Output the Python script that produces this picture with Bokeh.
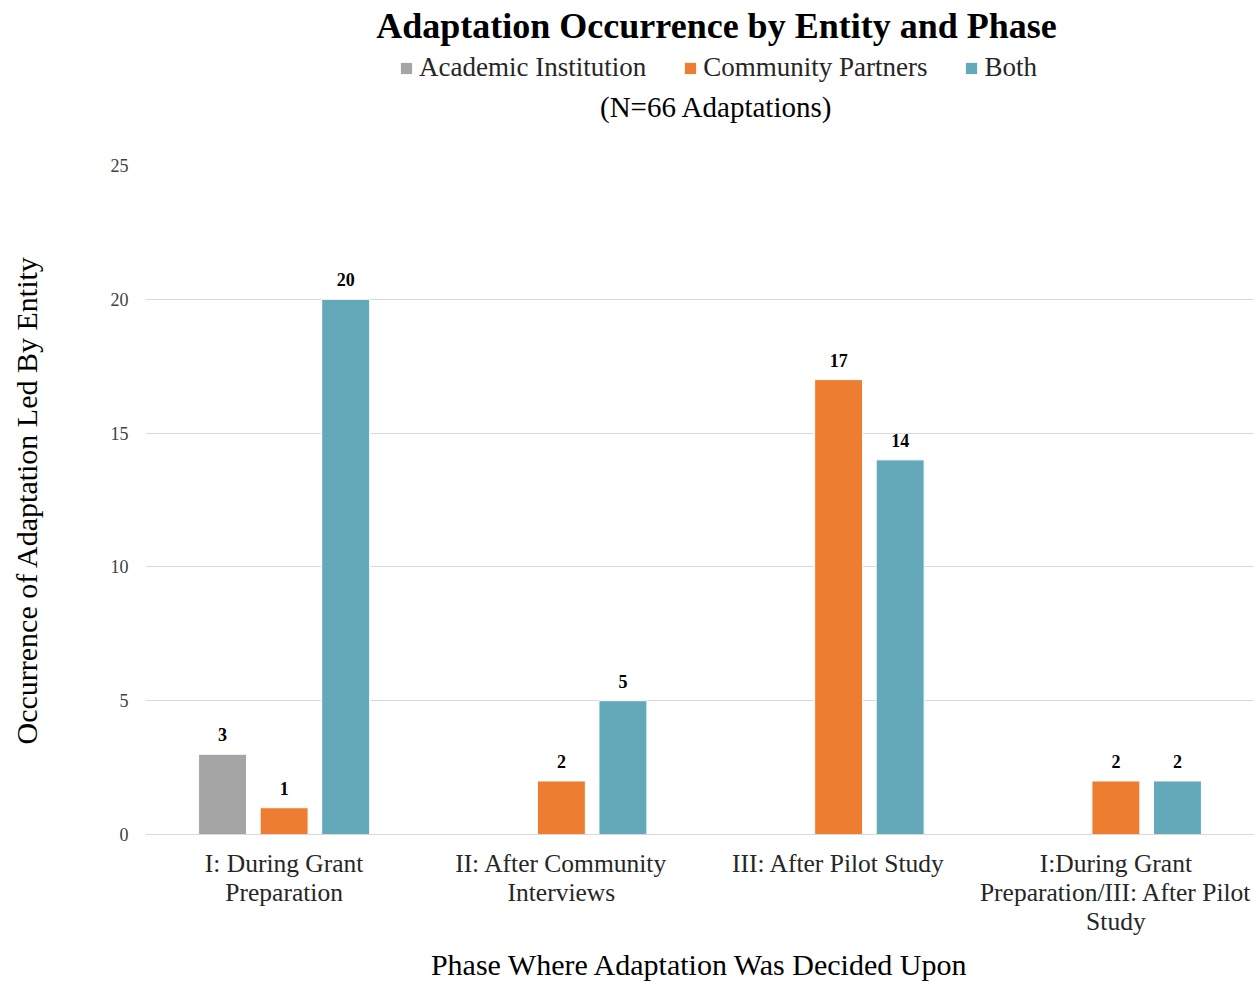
from bokeh.plotting import figure
from bokeh.layouts import column
from bokeh.models import (ColumnDataSource, FactorRange, Range1d, FixedTicker,
                          Legend, LegendItem, LabelSet, Label)
from bokeh.transform import dodge
from bokeh.embed import file_html
from bokeh.resources import INLINE

phases = ["I: During Grant\nPreparation", "II: After Community\nInterviews",
          "III: After Pilot Study", "I:During Grant\nPreparation/III: After Pilot\nStudy"]
academic = [3, 0, 0, 0]
community = [1, 2, 17, 2]
both = [20, 5, 14, 2]
series_names = ["Academic Institution", "Community Partners", "Both"]
colors = ["#A5A5A5", "#ED7D31", "#64A9BA"]
y_ticks = [0, 5, 10, 15, 20, 25]
title_text = "Adaptation Occurrence by Entity and Phase"
subtitle_text = "(N=66 Adaptations)"

FONT = "Liberation Serif"
W, H = 1254, 983
HEAD = 150          # header strip height
FL, FT, FB = 145, 165, 834  # frame left/top/bottom in page pixels

# ---------------- header (title, legend, subtitle) ----------------
# the column layout aligns this frame with the chart frame (x from FL to W)
h = figure(width=W, height=HEAD, x_range=Range1d(FL, W), y_range=Range1d(HEAD, 0),
           output_backend="svg", toolbar_location=None, x_axis_type=None, y_axis_type=None,
           min_border_left=FL, min_border_right=0, min_border_top=0, min_border_bottom=0)
h.outline_line_color = None
h.xgrid.grid_line_color = None
h.ygrid.grid_line_color = None
h.border_fill_color = "white"
h.background_fill_color = "white"

h.add_layout(Label(x=716, y=25, text=title_text, text_align="center", text_baseline="middle",
                   text_font=FONT, text_font_size="36px", text_font_style="bold",
                   text_color="#000000"))
h.add_layout(Label(x=716, y=106, text=subtitle_text, text_align="center",
                   text_baseline="middle", text_font=FONT, text_font_size="29px",
                   text_color="#000000"))
dummies = []
for col in colors:
    # empty-height swatch source so that the legend can draw its colour box
    dummies.append(h.vbar(x=[-5000], top=[0], bottom=[0], width=0, fill_color=col,
                          line_color=None))
legend = Legend(items=[LegendItem(label=n, renderers=[r]) for n, r in zip(series_names, dummies)],
                orientation="horizontal", location=(399 - FL, HEAD - 83), border_line_color=None,
                background_fill_alpha=0, padding=0, margin=0, spacing=37,
                glyph_width=14, glyph_height=14, label_standoff=6, label_height=28,
                label_text_font=FONT, label_text_font_size="27px", label_text_color="#262626",
                label_text_baseline="middle")
h.add_layout(legend, "center")

# ---------------- main chart ----------------
p = figure(width=W, height=H - HEAD, x_range=FactorRange(*phases), y_range=Range1d(0, 25),
           output_backend="svg", toolbar_location=None,
           min_border_left=FL, min_border_right=0, min_border_top=FT - HEAD,
           min_border_bottom=H - FB)
p.outline_line_color = None
p.background_fill_color = "white"
p.border_fill_color = "white"

offsets = [-0.222, 0.0, 0.222]
for name, vals, col, off in zip(series_names, [academic, community, both], colors, offsets):
    src = ColumnDataSource(dict(x=phases, y=vals))
    p.vbar(x=dodge("x", off, range=p.x_range), top="y", width=0.173, source=src,
           fill_color=col, line_color="white", line_width=1)
    nz = [(x, v) for x, v in zip(phases, vals) if v > 0]
    lsrc = ColumnDataSource(dict(x=[a for a, _ in nz], y=[b for _, b in nz],
                                 t=[str(b) for _, b in nz]))
    p.add_layout(LabelSet(x=dodge("x", off, range=p.x_range), y="y", text="t", source=lsrc,
                          y_offset=13, text_align="center", text_baseline="bottom",
                          text_font=FONT, text_font_size="18px", text_font_style="bold",
                          text_color="#000000"))

p.xgrid.grid_line_color = None
p.ygrid.grid_line_color = "#D9D9D9"
p.ygrid.ticker = FixedTicker(ticks=y_ticks)
p.yaxis.ticker = FixedTicker(ticks=y_ticks)
p.yaxis.axis_line_color = None
p.yaxis.major_tick_line_color = None
p.yaxis.minor_tick_line_color = None
p.yaxis.major_label_text_font = FONT
p.yaxis.major_label_text_font_size = "18px"
p.yaxis.major_label_text_color = "#404040"
p.yaxis.major_label_standoff = 11
p.yaxis.axis_label = "Occurrence of Adaptation Led By Entity"
p.yaxis.axis_label_text_font = FONT
p.yaxis.axis_label_text_font_size = "30px"
p.yaxis.axis_label_text_font_style = "normal"
p.yaxis.axis_label_text_color = "#000000"
p.yaxis.axis_label_standoff = 65

p.xaxis.axis_line_color = "#D9D9D9"
p.xaxis.axis_line_width = 1
p.xaxis.major_tick_line_color = None
p.xaxis.minor_tick_line_color = None
p.xaxis.major_label_text_font = FONT
p.xaxis.major_label_text_font_size = "25.5px"
p.xaxis.major_label_text_line_height = 1.0
p.xaxis.major_label_text_color = "#262626"
p.xaxis.major_label_standoff = 8
p.xaxis.axis_label = "Phase Where Adaptation Was Decided Upon"
p.xaxis.axis_label_text_font = FONT
p.xaxis.axis_label_text_font_size = "30px"
p.xaxis.axis_label_text_font_style = "normal"
p.xaxis.axis_label_text_color = "#000000"
p.xaxis.axis_label_standoff = 9

layout = column(h, p, spacing=0)
open("out.html", "w").write(file_html(layout, INLINE))
